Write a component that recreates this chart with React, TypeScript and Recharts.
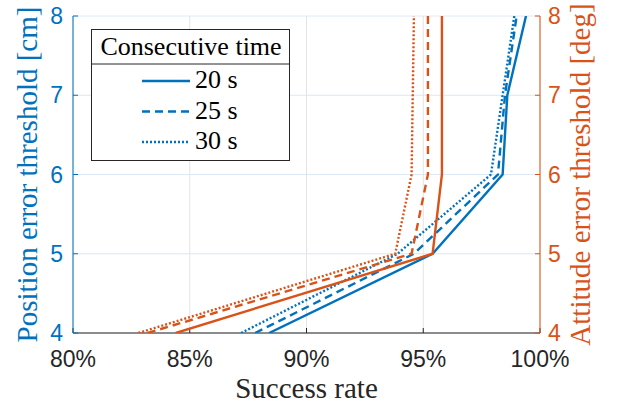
import React from 'react';
import { ScatterChart, Scatter, XAxis, YAxis, CartesianGrid, Label } from 'recharts';

const BLUE = '#0072BD';
const ORANGE = '#D95319';
const DARK = '#262626';

// Threshold levels (y) shared by all curves
const thresholds = [4, 5, 6, 7, 8];
// Success rate [%] — position error threshold (left axis)
const pos20 = [88.4, 95.4, 98.4, 98.6, 99.4];
const pos25 = [87.8, 94.6, 98.2, 98.5, 99.0];
const pos30 = [87.2, 93.9, 97.9, 98.4, 98.9];
// Success rate [%] — attitude error threshold (right axis)
const att20 = [84.4, 95.4, 95.8, 95.8, 95.8];
const att25 = [83.2, 94.5, 95.2, 95.2, 95.2];
const att30 = [82.8, 93.8, 94.5, 94.55, 94.6];

const xTicks = [80, 85, 90, 95, 100];
const yTicks = [4, 5, 6, 7, 8];
const legendItems = [
  { label: '20 s', dash: undefined as string | undefined },
  { label: '25 s', dash: '8 5' },
  { label: '30 s', dash: '2 2' },
];

const toPoints = (rates: number[]) => rates.map((r, i) => ({ rate: r, thr: thresholds[i] }));

const SERIF = 'Liberation Serif';
const SANS = 'Liberation Sans';
const LW = 2.4;

const noShape = () => <g />;

const series = [
  { data: pos20, color: BLUE, dash: undefined, axis: 'left' },
  { data: pos25, color: BLUE, dash: '8 5', axis: 'left' },
  { data: pos30, color: BLUE, dash: '2 2', axis: 'left' },
  { data: att20, color: ORANGE, dash: undefined, axis: 'right' },
  { data: att25, color: ORANGE, dash: '8 5', axis: 'right' },
  { data: att30, color: ORANGE, dash: '2 2', axis: 'right' },
];

const leftLabel = (props: any) => {
  const vb = props.viewBox || { x: 0, y: 16, width: 73, height: 317 };
  const x = vb.x + 37;
  const y = vb.y + vb.height / 2;
  return (
    <text x={x} y={y} transform={`rotate(-90 ${x} ${y})`} textAnchor="middle" fill={BLUE}
      fontFamily={SERIF} fontSize={29}>
      Position error threshold [cm]
    </text>
  );
};

const rightLabel = (props: any) => {
  const vb = props.viewBox || { x: 540, y: 16, width: 77, height: 317 };
  const x = vb.x + 50;
  const y = vb.y + vb.height / 2;
  return (
    <text x={x} y={y} transform={`rotate(-90 ${x} ${y})`} textAnchor="middle" fill={ORANGE}
      fontFamily={SERIF} fontSize={29}>
      Attitude error threshold [deg]
    </text>
  );
};

const bottomLabel = (props: any) => {
  const vb = props.viewBox || { x: 73, y: 333, width: 467, height: 74 };
  return (
    <text x={vb.x + vb.width / 2} y={vb.y + 65} textAnchor="middle" fill={DARK}
      fontFamily={SERIF} fontSize={29}>
      Success rate
    </text>
  );
};

const LegendBox = () => (
  <svg width={200} height={133} style={{ position: 'absolute', left: 91, top: 29 }}>
    <rect x={0.5} y={0.5} width={198} height={131} fill="#fff" stroke={DARK} strokeWidth={1} />
    <line x1={0.5} x2={198.5} y1={35} y2={35} stroke={DARK} strokeWidth={1} />
    <text x={100} y={26} textAnchor="middle" fill="#000" fontFamily={SERIF} fontSize={26}>
      Consecutive time
    </text>
    {legendItems.map((it, i) => {
      const cy = 52 + i * 30.5;
      return (
        <g key={it.label}>
          <line x1={51} x2={99} y1={cy} y2={cy} stroke={BLUE} strokeWidth={LW} strokeDasharray={it.dash} />
          <text x={104} y={cy + 7} fill="#000" fontFamily={SERIF} fontSize={26}>
            {it.label}
          </text>
        </g>
      );
    })}
  </svg>
);

export default function App() {
  return (
    <div style={{ position: 'absolute', left: 0, top: 0, width: 617, height: 407, background: '#fff' }}>
      <ScatterChart width={617} height={407} margin={{ top: 16, right: 0, bottom: 0, left: 0 }}>
        <CartesianGrid xAxisId="x" yAxisId="left" vertical={false} stroke="#DCE8F3" strokeWidth={1} />
        <CartesianGrid xAxisId="x" yAxisId="left" horizontal={false} stroke="#E3E3E3" strokeWidth={1} />
        <XAxis
          xAxisId="x"
          type="number"
          dataKey="rate"
          domain={[80, 100]}
          ticks={xTicks}
          tickFormatter={(v: number) => `${v}%`}
          height={74}
          axisLine={{ stroke: DARK, strokeWidth: 1 }}
          tickLine={{ stroke: DARK }}
          tickSize={-5}
          tickMargin={23}
          tick={{ fill: DARK, fontFamily: SANS, fontSize: 23 }}
          allowDataOverflow
        >
          <Label content={bottomLabel} />
        </XAxis>
        <YAxis
          yAxisId="left"
          orientation="left"
          type="number"
          dataKey="thr"
          domain={[4, 8]}
          ticks={yTicks}
          width={73}
          axisLine={{ stroke: BLUE, strokeWidth: 1 }}
          tickLine={{ stroke: BLUE }}
          tickSize={-5}
          tickMargin={15}
          tick={{ fill: BLUE, fontFamily: SANS, fontSize: 23 }}
          allowDataOverflow
        >
          <Label content={leftLabel} />
        </YAxis>
        <YAxis
          yAxisId="right"
          orientation="right"
          type="number"
          dataKey="thr"
          domain={[4, 8]}
          ticks={yTicks}
          width={77}
          axisLine={{ stroke: ORANGE, strokeWidth: 1 }}
          tickLine={{ stroke: ORANGE }}
          tickSize={-5}
          tickMargin={13}
          tick={{ fill: ORANGE, fontFamily: SANS, fontSize: 23, textAnchor: 'start' }}
          allowDataOverflow
        >
          <Label content={rightLabel} />
        </YAxis>
        {series.map((s, i) => (
          <Scatter
            key={i}
            xAxisId="x"
            yAxisId={s.axis}
            data={toPoints(s.data)}
            fill={s.color}
            shape={noShape}
            line={{ stroke: s.color, strokeWidth: LW, strokeDasharray: s.dash }}
            lineType="joint"
            isAnimationActive={false}
          />
        ))}
      </ScatterChart>
      <LegendBox />
    </div>
  );
}
